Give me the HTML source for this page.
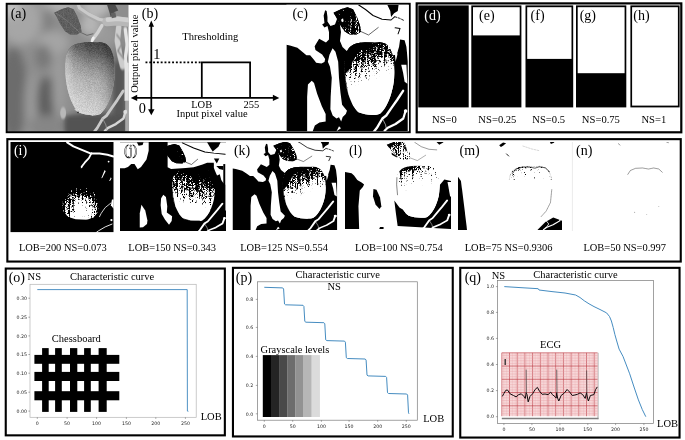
<!DOCTYPE html>
<html lang="en">
<head>
<meta charset="utf-8">
<title>Thresholding and characteristic curves</title>
<style>
html,body{margin:0;padding:0;background:#fff;}
body{width:685px;height:440px;overflow:hidden;}
svg{display:block;}
text{white-space:pre;}
</style>
</head>
<body>
<svg width="685" height="440" viewBox="0 0 685 440">
<rect x="0" y="0" width="685" height="440" fill="#fff"/>
<defs>
<filter id="dith" x="-5%" y="-5%" width="110%" height="110%" color-interpolation-filters="sRGB">
<feTurbulence type="fractalNoise" baseFrequency="1.73" numOctaves="2" seed="4" result="n"/>
<feColorMatrix in="n" type="matrix" values="1 0 0 0 0 1 0 0 0 0 1 0 0 0 0 0 0 0 0 1" result="ng"/>
<feTurbulence type="fractalNoise" baseFrequency="0.55 0.045" numOctaves="2" seed="7" result="m"/>
<feColorMatrix in="m" type="matrix" values="1 0 0 0 0 1 0 0 0 0 1 0 0 0 0 0 0 0 0 1" result="mg"/>
<feComposite in="ng" in2="mg" operator="arithmetic" k1="0" k2="0.55" k3="0.45" k4="0" result="nn"/>
<feComposite in="SourceGraphic" in2="nn" operator="arithmetic" k1="0" k2="2" k3="5.0" k4="-3.000" result="s"/>
<feComponentTransfer in="s"><feFuncR type="linear" slope="2.2" intercept="-0.6000000000000001"/><feFuncG type="linear" slope="2.2" intercept="-0.6000000000000001"/><feFuncB type="linear" slope="2.2" intercept="-0.6000000000000001"/><feFuncA type="linear" slope="0" intercept="1"/></feComponentTransfer>
<feGaussianBlur stdDeviation="0.38"/>
</filter>
<filter id="dith2" x="-5%" y="-5%" width="110%" height="110%" color-interpolation-filters="sRGB">
<feTurbulence type="fractalNoise" baseFrequency="1.61" numOctaves="2" seed="11" result="n"/>
<feColorMatrix in="n" type="matrix" values="1 0 0 0 0 1 0 0 0 0 1 0 0 0 0 0 0 0 0 1" result="ng"/>
<feTurbulence type="fractalNoise" baseFrequency="0.55 0.045" numOctaves="2" seed="14" result="m"/>
<feColorMatrix in="m" type="matrix" values="1 0 0 0 0 1 0 0 0 0 1 0 0 0 0 0 0 0 0 1" result="mg"/>
<feComposite in="ng" in2="mg" operator="arithmetic" k1="0" k2="0.55" k3="0.45" k4="0" result="nn"/>
<feComposite in="SourceGraphic" in2="nn" operator="arithmetic" k1="0" k2="2" k3="4.0" k4="-2.500" result="s"/>
<feComponentTransfer in="s"><feFuncR type="linear" slope="2.2" intercept="-0.6000000000000001"/><feFuncG type="linear" slope="2.2" intercept="-0.6000000000000001"/><feFuncB type="linear" slope="2.2" intercept="-0.6000000000000001"/><feFuncA type="linear" slope="0" intercept="1"/></feComponentTransfer>
<feGaussianBlur stdDeviation="0.38"/>
</filter>
<filter id="dithc" x="-5%" y="-5%" width="110%" height="110%" color-interpolation-filters="sRGB">
<feTurbulence type="fractalNoise" baseFrequency="1.37" numOctaves="2" seed="7" result="n"/>
<feColorMatrix in="n" type="matrix" values="1 0 0 0 0 1 0 0 0 0 1 0 0 0 0 0 0 0 0 1" result="ng"/>
<feTurbulence type="fractalNoise" baseFrequency="0.55 0.045" numOctaves="2" seed="10" result="m"/>
<feColorMatrix in="m" type="matrix" values="1 0 0 0 0 1 0 0 0 0 1 0 0 0 0 0 0 0 0 1" result="mg"/>
<feComposite in="ng" in2="mg" operator="arithmetic" k1="0" k2="0.55" k3="0.45" k4="0" result="nn"/>
<feComposite in="SourceGraphic" in2="nn" operator="arithmetic" k1="0" k2="2" k3="5.0" k4="-3.000" result="s"/>
<feComponentTransfer in="s"><feFuncR type="linear" slope="2.2" intercept="-0.6000000000000001"/><feFuncG type="linear" slope="2.2" intercept="-0.6000000000000001"/><feFuncB type="linear" slope="2.2" intercept="-0.6000000000000001"/><feFuncA type="linear" slope="0" intercept="1"/></feComponentTransfer>
<feGaussianBlur stdDeviation="0.38"/>
</filter>
<filter id="grain" x="0" y="0" width="100%" height="100%" color-interpolation-filters="sRGB">
<feTurbulence type="fractalNoise" baseFrequency="1.43" numOctaves="2" seed="9" result="n"/>
<feColorMatrix in="n" type="matrix" values="1 0 0 0 0 1 0 0 0 0 1 0 0 0 0 0 0 0 0 1" result="ng"/>
<feComposite in="SourceGraphic" in2="ng" operator="arithmetic" k1="0" k2="1" k3="0.22" k4="-0.11"/>
</filter>
<filter id="b1" x="-30%" y="-30%" width="160%" height="160%"><feGaussianBlur stdDeviation="0.8"/></filter>
<filter id="b2" x="-40%" y="-40%" width="180%" height="180%"><feGaussianBlur stdDeviation="2.2"/></filter>
<filter id="b4" x="-60%" y="-60%" width="220%" height="220%"><feGaussianBlur stdDeviation="4.5"/></filter>
<filter id="b8" x="-80%" y="-80%" width="260%" height="260%"><feGaussianBlur stdDeviation="8"/></filter>
<filter id="b05" x="-20%" y="-20%" width="140%" height="140%"><feGaussianBlur stdDeviation="0.45"/></filter>
<clipPath id="fruitclip"><path d="M58,62 C58,47 62,38.5 76,37.8 C82,37 88,38.2 93,37.3 C104,37.5 108,50 108,66 C108,85 101,103 93.5,109 C88,111.5 78,110 72,107.5 C64,101 58,82 58,62 Z"/></clipPath>
<clipPath id="imgclip"><rect x="0" y="0" width="122.0" height="126.5"/></clipPath>
<clipPath id="leafclip"><polygon points="47.0,8.0 55.0,4.2 61.0,2.4 66.5,4.5 70.5,12.5 73.5,20.7 74.5,27.0 70.0,29.8 63.0,29.6 58.0,26.5 53.0,19.0 49.5,12.0"/></clipPath>
</defs>
<svg x="7.50" y="4.80" width="121.20" height="126.60" viewBox="0 0 122.0 126.5" preserveAspectRatio="none" overflow="hidden">
<rect x="0" y="0" width="122.0" height="126.5" fill="#8e8e8e"/><g filter="url(#b4)"><ellipse cx="13.0" cy="16.0" rx="21.0" ry="24.0" fill="#a6a6a6"/><ellipse cx="3.0" cy="3.0" rx="9.0" ry="9.0" fill="#c4c4c4"/><ellipse cx="53.0" cy="1.0" rx="19.0" ry="7.0" fill="#b2b2b2"/><ellipse cx="89.0" cy="2.0" rx="15.0" ry="10.0" fill="#bababa"/><ellipse cx="41.0" cy="18.0" rx="5.0" ry="16.0" fill="#808080"/><ellipse cx="46.0" cy="38.0" rx="16.0" ry="12.0" fill="#a4a4a4"/><ellipse cx="6.0" cy="88.5" rx="14.0" ry="46.5" fill="#6c6c6c"/><ellipse cx="23.0" cy="101.5" rx="6.0" ry="33.5" fill="#9a9a9a"/><ellipse cx="40.0" cy="97.0" rx="10.0" ry="25.0" fill="#5e5e5e"/><ellipse cx="36.0" cy="52.0" rx="8.0" ry="12.0" fill="#787878"/><ellipse cx="51.5" cy="81.0" rx="6.5" ry="35.0" fill="#9c9c9c"/><ellipse cx="41.0" cy="121.0" rx="21.0" ry="11.0" fill="#868686"/><ellipse cx="113.0" cy="87.0" rx="7.0" ry="45.0" fill="#5e5e5e"/><ellipse cx="90.0" cy="120.0" rx="32.0" ry="14.0" fill="#5c5c5c"/><ellipse cx="97.0" cy="30.0" rx="13.0" ry="12.0" fill="#9a9a9a"/><ellipse cx="83.0" cy="20.5" rx="10.0" ry="10.5" fill="#b6b6b6"/></g><g filter="url(#b2)"><rect x="107" y="58" width="11" height="73" fill="#565656"/><rect x="58" y="111" width="62" height="20" fill="#525252"/></g><g filter="url(#b1)"><ellipse cx="56.0" cy="108.0" rx="3.0" ry="6.0" fill="#b8b8b8"/><polyline points="112.0,22.0 110.5,36.0 113.0,50.0 116.0,62.0" fill="none" stroke="#cdcdcd" stroke-width="5.5" stroke-linecap="round" stroke-linejoin="round" /><polyline points="118.5,24.0 120.5,40.0 118.5,54.0 120.5,66.0" fill="none" stroke="#e6e6e6" stroke-width="3.4" stroke-linecap="round" stroke-linejoin="round" /><polyline points="110.0,30.0 116.0,38.0 111.0,46.0 117.0,54.0" fill="none" stroke="#8c8c8c" stroke-width="1.6" stroke-linecap="round" stroke-linejoin="round" /></g><g filter="url(#b05)"><rect x="117.8" y="58" width="5" height="38" fill="#e4e4e4"/><rect x="118.5" y="96" width="5" height="34" fill="#a8a8a8"/><polyline points="116.5,86.0 110.5,95.2 105.1,102.9 99.7,110.7 95.8,113.7 90.4,123.0 87.3,127.0" fill="none" stroke="#c9c9c9" stroke-width="2.8" stroke-linecap="round" stroke-linejoin="round" /><polyline points="119.0,106.0 116.7,113.7 109.0,119.2 101.2,123.0 98.0,126.0" fill="none" stroke="#d6d6d6" stroke-width="2.4" stroke-linecap="round" stroke-linejoin="round" /><circle cx="118.5" cy="107" r="2" fill="#dedede"/><polyline points="95.8,113.7 99.0,120.0 100.0,125.0" fill="none" stroke="#a8a8a8" stroke-width="0.7" stroke-linecap="round" stroke-linejoin="round" /><polyline points="70.5,-1.0 72.5,4.2 81.5,10.2 92.0,15.4 102.5,17.7 111.5,17.0 123.0,18.8" fill="none" stroke="#a8a8a8" stroke-width="5.6" stroke-linecap="round" stroke-linejoin="round" /><polyline points="70.5,-2.0 72.5,3.2 81.5,9.2 92.0,14.4 102.5,16.6" fill="none" stroke="#cacaca" stroke-width="3.2" stroke-linecap="round" stroke-linejoin="round" /><polyline points="100.0,17.0 111.0,16.2 123.0,17.5" fill="none" stroke="#b8b8b8" stroke-width="9" stroke-linecap="round" stroke-linejoin="round" /><polyline points="101.0,15.0 111.0,14.0 123.0,15.5" fill="none" stroke="#d0d0d0" stroke-width="4.5" stroke-linecap="round" stroke-linejoin="round" /><polyline points="95.0,20.7 90.5,28.2 85.6,35.0" fill="none" stroke="#d2d2d2" stroke-width="3.4" stroke-linecap="round" stroke-linejoin="round" /><polyline points="86.5,33.0 85.0,36.5" fill="none" stroke="#f0f0f0" stroke-width="2.6" stroke-linecap="round" stroke-linejoin="round" /><polyline points="71.7,26.7 80.0,30.5 86.0,29.0" fill="none" stroke="#5a5a5a" stroke-width="0.8" stroke-linecap="round" stroke-linejoin="round" /><polygon points="100.2,0.0 108.5,0.0 111.5,5.7 107.7,7.2 104.0,12.4 102.5,7.2" fill="#4e4e4e" /><polygon points="104.0,8.5 108.5,7.5 109.5,12.5 105.0,13.5" fill="#626262" /><polygon points="47.0,8.0 55.0,4.2 61.0,2.4 66.5,4.5 70.5,12.5 73.5,20.7 74.5,27.0 70.0,29.8 63.0,29.6 58.0,26.5 53.0,19.0 49.5,12.0" fill="#5e5e5e" /></g><g clip-path="url(#leafclip)" opacity="0.8"><rect x="44" y="0" width="36" height="32" fill="#5e5e5e" filter="url(#grain)"/></g><polyline points="49.0,8.5 60.0,16.0 72.0,27.0" fill="none" stroke="#8a8a8a" stroke-width="0.6" stroke-linecap="round" stroke-linejoin="round" /><linearGradient id="afr" gradientUnits="userSpaceOnUse" x1="90" y1="37" x2="78" y2="110"><stop offset="0" stop-color="#404040"/><stop offset="0.14" stop-color="#585858"/><stop offset="0.3" stop-color="#868686"/><stop offset="0.5" stop-color="#ababab"/><stop offset="0.75" stop-color="#c2c2c2"/><stop offset="1" stop-color="#d6d6d6"/></linearGradient><linearGradient id="afr2" gradientUnits="userSpaceOnUse" x1="58" y1="0" x2="108" y2="0"><stop offset="0" stop-color="#fff" stop-opacity="0.4"/><stop offset="0.2" stop-color="#fff" stop-opacity="0.12"/><stop offset="0.5" stop-color="#fff" stop-opacity="0"/><stop offset="0.8" stop-color="#000" stop-opacity="0.08"/><stop offset="1" stop-color="#000" stop-opacity="0.3"/></linearGradient><g filter="url(#b05)"><path d="M58,62 C58,47 62,38.5 76,37.8 C82,37 88,38.2 93,37.3 C104,37.5 108,50 108,66 C108,85 101,103 93.5,109 C88,111.5 78,110 72,107.5 C64,101 58,82 58,62 Z" fill="url(#afr)"/></g><g clip-path="url(#fruitclip)"><rect x="50" y="30" width="66" height="88" fill="url(#afr)" filter="url(#grain)"/><rect x="50" y="30" width="66" height="88" fill="url(#afr2)"/></g><polyline points="68.0,104.5 72.0,107.5 80.0,108.0 86.0,110.5" fill="none" stroke="#d8d8d8" stroke-width="1.0" stroke-linecap="round" stroke-linejoin="round" /><circle cx="71" cy="107.5" r="0.8" fill="#222"/>
</svg>
<text x="10.7" y="17.6" font-size="14" fill="#000" text-anchor="start" font-family='"Liberation Serif", serif' >(a)</text>
<g stroke="#000" stroke-width="1.75" fill="none">
<line x1="151.3" y1="25.5" x2="151.3" y2="110.5"/>
<line x1="136" y1="97.9" x2="274" y2="97.9"/>
<polyline points="201.8,98 201.8,62.3 250.1,62.3 250.1,98"/>
<line x1="145.5" y1="62.3" x2="201.5" y2="62.3" stroke-dasharray="1.9 1.9"/>
</g>
<polygon points="151.3,20.6 148.6,26.8 154,26.8" fill="#000"/>
<polygon points="151.3,115.2 148.1,109.3 154.5,109.3" fill="#000"/>
<polygon points="130.8,97.9 137.2,94.8 137.2,101" fill="#000"/>
<polygon points="279.3,97.9 272.9,94.8 272.9,101" fill="#000"/>
<text x="141.8" y="18.3" font-size="14" fill="#000" text-anchor="start" font-family='"Liberation Serif", serif' >(b)</text>
<text x="182.3" y="39.7" font-size="10.5" fill="#000" text-anchor="start" font-family='"Liberation Serif", serif' >Thresholding</text>
<text x="153.3" y="58.8" font-size="14.3" fill="#000" text-anchor="start" font-family='"Liberation Serif", serif' >1</text>
<text x="138.7" y="113.3" font-size="14.3" fill="#000" text-anchor="start" font-family='"Liberation Serif", serif' >0</text>
<text x="191.2" y="107.5" font-size="10.5" fill="#000" text-anchor="start" font-family='"Liberation Serif", serif' >LOB</text>
<text x="243.6" y="107.8" font-size="10.5" fill="#000" text-anchor="start" font-family='"Liberation Serif", serif' >255</text>
<text x="176.5" y="117.4" font-size="10.5" fill="#000" text-anchor="start" font-family='"Liberation Serif", serif' >Input pixel value</text>
<text transform="translate(138.3,92.8) rotate(-90)" font-size="10.5" fill="#000" font-family='"Liberation Serif", serif'>Output pixel value</text>
<rect x="6.70" y="3.80" width="403.00" height="128.40" fill="none" stroke="#000" stroke-width="2.0"/>
<rect x="418.3" y="5.4" width="50.4" height="102.0" fill="#000"/>
<text x="444.5" y="122.8" font-size="10.6" fill="#000" text-anchor="middle" font-family='"Liberation Serif", serif' >NS=0</text>
<text x="424.3" y="19.6" font-size="14" fill="#fff" text-anchor="start" font-family='"Liberation Serif", serif' >(d)</text>
<rect x="471.3" y="5.4" width="50.1" height="102.0" fill="#000"/>
<rect x="473.0" y="7.2" width="46.7" height="28.2" fill="#fff"/>
<text x="497.4" y="122.8" font-size="10.6" fill="#000" text-anchor="middle" font-family='"Liberation Serif", serif' >NS=0.25</text>
<text x="479.0" y="19.6" font-size="14" fill="#000" text-anchor="start" font-family='"Liberation Serif", serif' >(e)</text>
<rect x="525.5" y="5.4" width="47.7" height="102.0" fill="#000"/>
<rect x="527.2" y="7.2" width="44.3" height="51.7" fill="#fff"/>
<text x="548.7" y="122.8" font-size="10.6" fill="#000" text-anchor="middle" font-family='"Liberation Serif", serif' >NS=0.5</text>
<text x="530.6" y="19.6" font-size="14" fill="#000" text-anchor="start" font-family='"Liberation Serif", serif' >(f)</text>
<rect x="576.0" y="5.4" width="50.3" height="102.0" fill="#000"/>
<rect x="577.7" y="7.2" width="46.9" height="66.0" fill="#fff"/>
<text x="600.9" y="122.8" font-size="10.6" fill="#000" text-anchor="middle" font-family='"Liberation Serif", serif' >NS=0.75</text>
<text x="579.7" y="19.6" font-size="14" fill="#000" text-anchor="start" font-family='"Liberation Serif", serif' >(g)</text>
<rect x="630.4" y="5.4" width="49.2" height="102.0" fill="#000"/>
<rect x="632.1" y="7.2" width="45.8" height="98.4" fill="#fff"/>
<text x="653.8" y="122.8" font-size="10.6" fill="#000" text-anchor="middle" font-family='"Liberation Serif", serif' >NS=1</text>
<text x="633.3" y="19.6" font-size="14" fill="#000" text-anchor="start" font-family='"Liberation Serif", serif' >(h)</text>
<rect x="416.70" y="3.40" width="264.60" height="128.90" fill="none" stroke="#000" stroke-width="2.2"/>
<defs><clipPath id="mclip"><rect x="50" y="30" width="70" height="26"/></clipPath></defs>
<svg x="286.40" y="4.80" width="122.20" height="126.50" viewBox="0 0 122.0 126.5" preserveAspectRatio="none" overflow="hidden">
<rect x="-6" y="-6" width="134.0" height="138.5" fill="#fff"/><polygon points="0.0,40.0 3.5,40.7 11.0,43.0 15.5,46.7 20.0,50.4 23.7,50.4 27.5,55.0 29.7,58.0 35.0,58.7 38.0,57.2 38.7,54.2 35.7,49.7 29.0,45.2 28.2,41.4 32.7,34.0 39.5,37.7 42.5,34.7 42.5,27.2 41.0,21.2 38.0,22.7 35.7,19.7 38.0,18.2 37.2,10.7 38.7,5.4 40.2,6.2 41.0,12.2 41.0,16.7 44.0,21.2 48.5,19.7 50.7,13.7 53.0,16.7 54.5,27.2 53.5,36.2 56.0,42.2 60.0,46.0 70.0,52.0 83.0,56.0 100.0,52.0 109.0,50.0 111.0,47.0 112.5,42.0 113.5,34.7 118.0,35.5 119.8,42.0 121.3,57.0 121.3,127.0 0.0,127.0" fill="#000" /><polygon points="25.3,75.9 27.6,78.2 30.7,89.0 35.4,101.4 39.2,109.1 39.2,116.8 33.0,117.6 28.4,120.7 26.1,127.0 20.7,127.0 20.7,92.1 21.5,79.7" fill="#fff" /><polygon points="46.1,43.5 49.0,47.0 51.7,57.0 52.5,73.0 54.0,88.0 55.6,100.0 60.5,106.0 59.3,109.1 56.2,112.2 54.7,116.8 52.5,112.5 50.0,113.7 46.2,110.7 43.9,104.5 44.2,92.0 45.3,73.0 43.5,62.0 41.4,57.0 43.0,50.0" fill="#fff" /><polygon points="50.0,126.5 54.5,123.5 52.5,121.5" fill="#fff" /><polygon points="114.6,60.0 119.8,60.0 120.8,79.0 118.0,77.0 116.5,68.0" fill="#fff" /><polygon points="108.6,38.0 110.5,38.0 110.8,50.0 109.0,57.0 108.4,50.0" fill="#fff" /><polyline points="116.5,86.0 110.5,95.2 105.1,102.9 99.7,110.7 95.8,113.7 90.4,123.0 87.3,127.0" fill="none" stroke="#fff" stroke-width="2.3" stroke-linecap="round" stroke-linejoin="round" /><polyline points="119.0,106.0 116.7,113.7 109.0,119.2 101.2,123.0 98.0,126.0" fill="none" stroke="#fff" stroke-width="2.2" stroke-linecap="round" stroke-linejoin="round" /><polyline points="95.8,113.7 99.0,120.0 100.0,125.0" fill="none" stroke="#fff" stroke-width="0.6" stroke-linecap="round" stroke-linejoin="round" /><circle cx="119" cy="106.3" r="1.8" fill="#fff"/><rect x="121.2" y="0" width="2" height="126.5" fill="#fff"/><linearGradient id="cfg" gradientUnits="userSpaceOnUse" x1="76" y1="34" x2="91" y2="74"><stop offset="0" stop-color="rgb(0,0,0)"/><stop offset="0.1" stop-color="rgb(0,0,0)"/><stop offset="0.56" stop-color="rgb(128,128,128)"/><stop offset="1.0" stop-color="rgb(255,255,255)"/></linearGradient><linearGradient id="cfgw" gradientUnits="userSpaceOnUse" x1="76" y1="34" x2="91" y2="74"><stop offset="0.84" stop-color="#fff" stop-opacity="0"/><stop offset="1.0" stop-color="#fff" stop-opacity="1"/></linearGradient><linearGradient id="cfgb" gradientUnits="userSpaceOnUse" x1="76" y1="34" x2="91" y2="74"><stop offset="0.1" stop-color="#000" stop-opacity="1"/><stop offset="0.24" stop-color="#000" stop-opacity="0"/></linearGradient><g clip-path="url(#fruitclip)"><g filter="url(#dith)"><rect x="50" y="30" width="66" height="88" fill="url(#cfg)"/></g><rect x="50" y="30" width="66" height="88" fill="url(#cfgw)"/><rect x="50" y="30" width="66" height="88" fill="url(#cfgb)"/></g><g clip-path="url(#fruitclip)"><polygon points="56.0,36.0 75.0,36.0 70.5,47.0 66.5,56.0 63.5,64.0 60.0,68.0 56.0,69.0" fill="#000" filter="url(#b05)"/></g><polyline points="58.3,50.0 58.0,62.0 59.0,76.0 61.5,90.0 66.0,101.0 70.5,107.0" fill="none" stroke="#000" stroke-width="0.6" stroke-linecap="round" stroke-linejoin="round" /><polygon points="47.0,8.0 55.0,4.2 61.0,2.4 66.5,4.5 70.5,12.5 73.5,20.7 74.5,27.0 70.0,29.8 63.0,29.6 58.0,26.5 53.0,19.0 49.5,12.0" fill="#000" /><linearGradient id="clg" gradientUnits="userSpaceOnUse" x1="58" y1="8" x2="74" y2="26"><stop offset="0" stop-color="rgb(20,20,20)"/><stop offset="1" stop-color="rgb(107,107,107)"/></linearGradient><g clip-path="url(#leafclip)"><g filter="url(#dith2)"><rect x="48" y="0" width="32" height="32" fill="url(#clg)"/></g></g><polygon points="54.5,15.0 56.5,13.5 57.2,16.5 55.5,17.5" fill="#fff" /><polyline points="72.2,0.2 79.0,4.7 86.5,10.7 95.5,14.4 104.5,15.2 108.0,12.0" fill="none" stroke="#000" stroke-width="1.0" stroke-linecap="round" stroke-linejoin="round" /><polyline points="73.7,26.4 82.0,30.2 91.7,22.7" fill="none" stroke="#000" stroke-width="0.6" stroke-linecap="round" stroke-linejoin="round" /><polygon points="100.7,0.0 112.0,0.0 111.2,6.2 107.5,8.4 104.5,12.2 103.7,6.2" fill="#000" /><polyline points="108.5,12.0 113.0,13.5 118.0,16.0" fill="none" stroke="#000" stroke-width="0.9" stroke-linecap="round" stroke-linejoin="round" stroke-dasharray="2 1.5"/><polyline points="108.5,23.0 113.5,23.6 111.5,29.0" fill="none" stroke="#000" stroke-width="1.0" stroke-linecap="round" stroke-linejoin="round" />
</svg>
<text x="292.4" y="18.0" font-size="14" fill="#000" text-anchor="start" font-family='"Liberation Serif", serif' >(c)</text>
<rect x="10.5" y="142" width="103" height="90.1" fill="#000"/><polyline points="67.1,142.3 73.4,146.3 82.5,150.2 90.4,153.4 99.5,153.6 107.5,154.8 113.4,156.5" fill="none" stroke="#fff" stroke-width="2.0" stroke-linecap="round" stroke-linejoin="round" /><polyline points="91.5,153.2 88.9,158.2 84.7,162.7 81.6,166.8" fill="none" stroke="#fff" stroke-width="1.8" stroke-linecap="round" stroke-linejoin="round" /><polygon points="82.6,164.5 80.6,168.2 82.2,168.0" fill="#fff" /><polygon points="101.2,178.6 104.6,170.1 105.7,171.2 102.6,177.2" fill="#fff" /><polygon points="109.2,180.9 110.9,177.3 111.5,178.5 110.0,181.0" fill="#fff" /><circle cx="108.6" cy="161.6" r="0.9" fill="#fff"/><polyline points="110.9,203.0 105.2,207.6 101.2,213.3 99.5,216.7" fill="none" stroke="#fff" stroke-width="0.8" stroke-linecap="round" stroke-linejoin="round" /><circle cx="111.4" cy="220.1" r="1.1" fill="#fff"/><polyline points="112.0,224.1 105.2,226.9 98.4,230.9 96.1,232.6" fill="none" stroke="#fff" stroke-width="0.9" stroke-linecap="round" stroke-linejoin="round" /><polygon points="112.0,199.6 113.6,199.6 113.6,208.7 110.9,205.3" fill="#fff" /><clipPath id="iblob"><polygon points="62.2,206.3 62.8,198.8 66.8,192.4 75.6,188.6 82.5,187.8 90.4,189.0 97.6,195.6 99.0,206.5 97.6,212.6 93.6,217.6 87.0,219.8 75.6,219.3 68.2,217.0 63.8,212.0"/></clipPath><radialGradient id="irg" gradientUnits="userSpaceOnUse" cx="80.8" cy="212.5" r="21.5" gradientTransform="translate(80.8 212.5) scale(1 1.08) translate(-80.8 -212.5)"><stop offset="0" stop-color="#eee"/><stop offset="0.4" stop-color="#d4d4d4"/><stop offset="0.7" stop-color="#808080"/><stop offset="1" stop-color="#1a1a1a"/></radialGradient><g clip-path="url(#iblob)"><g filter="url(#dith)"><rect x="58" y="184" width="46" height="40" fill="url(#irg)"/></g></g>
<svg x="120.00" y="142.00" width="106.00" height="89.00" viewBox="-2.20 -0.28 122.97 124.48" preserveAspectRatio="none" overflow="hidden">
<rect x="-6" y="-6" width="134.0" height="138.5" fill="#000"/><g transform="matrix(1.0221 0 0 0.995 -3.07 -0.07)"><polygon points="0.0,0.0 33.4,0.0 33.4,12.2 30.9,24.5 24.7,35.1 21.0,38.2 17.3,30.6 13.6,30.6 9.9,35.1 6.1,36.7 0.0,36.7" fill="#fff" /><polygon points="20.0,0.0 27.5,0.0 26.5,4.0 22.0,5.0" fill="#000" /><polygon points="25.2,88.0 29.5,96.0 32.0,110.0 31.5,115.0 27.0,119.5 23.3,120.0 23.3,100.0" fill="#fff" /><polygon points="50.0,74.0 53.0,77.0 54.5,90.0 54.0,99.0 60.0,104.0 59.5,111.0 56.5,116.0 52.0,109.0 48.2,101.0 47.0,88.8 47.5,79.0" fill="#fff" /><polygon points="54.9,0.0 123.0,0.0 123.0,30.0 107.4,30.0 107.4,29.0 99.7,29.0 94.6,31.4 88.2,33.8 84.4,35.4 75.4,36.2 58.8,37.8 54.9,35.4" fill="#fff" /><polygon points="107.4,17.0 123.0,17.0 123.0,96.0 120.3,96.0 120.3,60.0 118.1,57.5 115.8,53.3 114.1,45.0 111.0,47.0 108.5,40.0 107.4,36.0" fill="#fff" /><polygon points="107.4,23.1 113.6,23.1 110.7,30.1" fill="#000" /><polygon points="110.2,33.6 118.1,33.6 118.1,39.2 113.6,37.8" fill="#000" /><rect x="118.1" y="30.8" width="2.2" height="66" fill="#000"/></g><polyline points="116.5,86.0 110.5,95.2 105.1,102.9 99.7,110.7 95.8,113.7 90.4,123.0 87.3,127.0" fill="none" stroke="#fff" stroke-width="2.3" stroke-linecap="round" stroke-linejoin="round" /><polyline points="119.0,106.0 116.7,113.7 109.0,119.2 101.2,123.0 98.0,126.0" fill="none" stroke="#fff" stroke-width="2.2" stroke-linecap="round" stroke-linejoin="round" /><polyline points="95.8,113.7 99.0,120.0 100.0,125.0" fill="none" stroke="#fff" stroke-width="0.6" stroke-linecap="round" stroke-linejoin="round" /><circle cx="119" cy="106.3" r="1.6" fill="#fff"/><linearGradient id="jfg" gradientUnits="userSpaceOnUse" x1="96" y1="34" x2="78" y2="88"><stop offset="0" stop-color="rgb(0,0,0)"/><stop offset="0.18" stop-color="rgb(0,0,0)"/><stop offset="0.62" stop-color="rgb(128,128,128)"/><stop offset="1" stop-color="rgb(242,242,242)"/></linearGradient><linearGradient id="jfgw" gradientUnits="userSpaceOnUse" x1="96" y1="34" x2="78" y2="88"><stop offset="0.9" stop-color="#fff" stop-opacity="0"/><stop offset="1.04" stop-color="#fff" stop-opacity="1"/></linearGradient><linearGradient id="jfgb" gradientUnits="userSpaceOnUse" x1="96" y1="34" x2="78" y2="88"><stop offset="0.16" stop-color="#000" stop-opacity="1"/><stop offset="0.3" stop-color="#000" stop-opacity="0"/></linearGradient><g clip-path="url(#fruitclip)"><g filter="url(#dith)"><rect x="50" y="30" width="66" height="88" fill="url(#jfg)"/></g><rect x="50" y="30" width="66" height="88" fill="url(#jfgw)"/><rect x="50" y="30" width="66" height="88" fill="url(#jfgb)"/></g><polyline points="58.3,50.0 58.0,62.0 59.0,76.0 61.5,90.0 66.0,101.0 70.5,107.0 80.0,110.3 90.0,110.3" fill="none" stroke="#000" stroke-width="1.0" stroke-linecap="round" stroke-linejoin="round" /><polygon points="47.0,8.0 55.0,4.2 61.0,2.4 66.5,4.5 70.5,12.5 73.5,20.7 74.5,27.0 70.0,29.8 63.0,29.6 58.0,26.5 53.0,19.0 49.5,12.0" fill="#000" /><linearGradient id="jlg" gradientUnits="userSpaceOnUse" x1="58" y1="8" x2="74" y2="26"><stop offset="0" stop-color="rgb(0,0,0)"/><stop offset="1" stop-color="rgb(51,51,51)"/></linearGradient><g clip-path="url(#leafclip)"><g filter="url(#dith2)"><rect x="48" y="0" width="32" height="32" fill="url(#jlg)"/></g></g><g transform="matrix(1.0221 0 0 0.995 -3.07 -0.07)"><polyline points="71.6,1.0 84.4,8.2 97.2,13.8 107.4,15.4 120.2,17.0" fill="none" stroke="#000" stroke-width="1.3" stroke-linecap="round" stroke-linejoin="round" /><polygon points="99.7,0.0 115.1,0.0 112.5,6.6 106.1,13.0 103.5,8.2" fill="#000" /><polyline points="75.4,28.2 82.0,31.4 89.0,24.0" fill="none" stroke="#000" stroke-width="0.7" stroke-linecap="round" stroke-linejoin="round" /></g>
</svg>
<svg x="232.00" y="142.00" width="106.00" height="88.00" viewBox="-0.87 2.88 122.97 123.08" preserveAspectRatio="none" overflow="hidden">
<rect x="-6" y="-6" width="134.0" height="138.5" fill="#fff"/><polygon points="0.0,40.0 3.5,40.7 11.0,43.0 15.5,46.7 20.0,50.4 23.7,50.4 27.5,55.0 29.7,58.0 35.0,58.7 38.0,57.2 38.7,54.2 35.7,49.7 29.0,45.2 28.2,41.4 32.7,34.0 39.5,37.7 42.5,34.7 42.5,27.2 41.0,21.2 38.0,22.7 35.7,19.7 38.0,18.2 37.2,10.7 38.7,5.4 40.2,6.2 41.0,12.2 41.0,16.7 44.0,21.2 48.5,19.7 50.7,13.7 53.0,16.7 54.5,27.2 53.5,36.2 56.0,42.2 60.0,46.0 70.0,52.0 83.0,56.0 100.0,52.0 109.0,50.0 111.0,47.0 112.5,42.0 113.5,34.7 118.0,35.5 119.8,42.0 121.3,57.0 121.3,127.0 0.0,127.0" fill="#000" /><polygon points="25.3,75.9 27.6,78.2 30.7,89.0 35.4,101.4 39.2,109.1 39.2,116.8 33.0,117.6 28.4,120.7 26.1,127.0 20.7,127.0 20.7,92.1 21.5,79.7" fill="#fff" /><polygon points="46.1,43.5 49.0,47.0 51.7,57.0 52.5,73.0 54.0,88.0 55.6,100.0 60.5,106.0 59.3,109.1 56.2,112.2 54.7,116.8 52.5,112.5 50.0,113.7 46.2,110.7 43.9,104.5 44.2,92.0 45.3,73.0 43.5,62.0 41.4,57.0 43.0,50.0" fill="#fff" /><polygon points="50.0,126.5 54.5,123.5 52.5,121.5" fill="#fff" /><polygon points="114.6,60.0 119.8,60.0 120.8,79.0 118.0,77.0 116.5,68.0" fill="#fff" /><polygon points="108.6,38.0 110.5,38.0 110.8,50.0 109.0,57.0 108.4,50.0" fill="#fff" /><polyline points="116.5,86.0 110.5,95.2 105.1,102.9 99.7,110.7 95.8,113.7 90.4,123.0 87.3,127.0" fill="none" stroke="#fff" stroke-width="2.3" stroke-linecap="round" stroke-linejoin="round" /><polyline points="119.0,106.0 116.7,113.7 109.0,119.2 101.2,123.0 98.0,126.0" fill="none" stroke="#fff" stroke-width="2.2" stroke-linecap="round" stroke-linejoin="round" /><polyline points="95.8,113.7 99.0,120.0 100.0,125.0" fill="none" stroke="#fff" stroke-width="0.6" stroke-linecap="round" stroke-linejoin="round" /><circle cx="119" cy="106.3" r="1.8" fill="#fff"/><rect x="121.2" y="0" width="2" height="126.5" fill="#fff"/><linearGradient id="kfg" gradientUnits="userSpaceOnUse" x1="76" y1="34" x2="91" y2="74"><stop offset="0" stop-color="rgb(0,0,0)"/><stop offset="0.1" stop-color="rgb(0,0,0)"/><stop offset="0.56" stop-color="rgb(128,128,128)"/><stop offset="1.0" stop-color="rgb(255,255,255)"/></linearGradient><linearGradient id="kfgw" gradientUnits="userSpaceOnUse" x1="76" y1="34" x2="91" y2="74"><stop offset="0.84" stop-color="#fff" stop-opacity="0"/><stop offset="1.0" stop-color="#fff" stop-opacity="1"/></linearGradient><linearGradient id="kfgb" gradientUnits="userSpaceOnUse" x1="76" y1="34" x2="91" y2="74"><stop offset="0.1" stop-color="#000" stop-opacity="1"/><stop offset="0.24" stop-color="#000" stop-opacity="0"/></linearGradient><g clip-path="url(#fruitclip)"><g filter="url(#dith)"><rect x="50" y="30" width="66" height="88" fill="url(#kfg)"/></g><rect x="50" y="30" width="66" height="88" fill="url(#kfgw)"/><rect x="50" y="30" width="66" height="88" fill="url(#kfgb)"/></g><g clip-path="url(#fruitclip)"><polygon points="56.0,36.0 75.0,36.0 70.5,47.0 66.5,56.0 63.5,64.0 60.0,68.0 56.0,69.0" fill="#000" filter="url(#b05)"/></g><polyline points="58.3,50.0 58.0,62.0 59.0,76.0 61.5,90.0 66.0,101.0 70.5,107.0" fill="none" stroke="#000" stroke-width="0.6" stroke-linecap="round" stroke-linejoin="round" /><polygon points="47.0,8.0 55.0,4.2 61.0,2.4 66.5,4.5 70.5,12.5 73.5,20.7 74.5,27.0 70.0,29.8 63.0,29.6 58.0,26.5 53.0,19.0 49.5,12.0" fill="#000" /><linearGradient id="klg" gradientUnits="userSpaceOnUse" x1="58" y1="8" x2="74" y2="26"><stop offset="0" stop-color="rgb(20,20,20)"/><stop offset="1" stop-color="rgb(107,107,107)"/></linearGradient><g clip-path="url(#leafclip)"><g filter="url(#dith2)"><rect x="48" y="0" width="32" height="32" fill="url(#klg)"/></g></g><polygon points="54.5,15.0 56.5,13.5 57.2,16.5 55.5,17.5" fill="#fff" /><polyline points="72.2,0.2 79.0,4.7 86.5,10.7 95.5,14.4 104.5,15.2 108.0,12.0" fill="none" stroke="#000" stroke-width="1.0" stroke-linecap="round" stroke-linejoin="round" /><polyline points="73.7,26.4 82.0,30.2 91.7,22.7" fill="none" stroke="#000" stroke-width="0.6" stroke-linecap="round" stroke-linejoin="round" /><polygon points="100.7,0.0 112.0,0.0 111.2,6.2 107.5,8.4 104.5,12.2 103.7,6.2" fill="#000" /><polyline points="108.5,12.0 113.0,13.5 118.0,16.0" fill="none" stroke="#000" stroke-width="0.9" stroke-linecap="round" stroke-linejoin="round" stroke-dasharray="2 1.5"/><polyline points="108.5,23.0 113.5,23.6 111.5,29.0" fill="none" stroke="#000" stroke-width="1.0" stroke-linecap="round" stroke-linejoin="round" />
</svg>
<svg x="345.00" y="142.00" width="106.00" height="87.00" viewBox="-1.91 4.20 122.97 121.68" preserveAspectRatio="none" overflow="hidden">
<rect x="-6" y="-6" width="134.0" height="138.5" fill="#fff"/><g transform="matrix(1.0221 0 0 0.995 -2.15 4.34)"><polygon points="0.0,42.1 7.7,43.7 10.5,47.0 14.2,53.3 19.5,57.0 21.9,59.7 20.5,63.0 17.0,68.0 15.5,90.0 16.3,122.5 0.0,122.5" fill="#000" /><polygon points="32.5,66.0 36.0,67.0 40.0,78.0 41.5,90.0 39.5,94.0 35.0,88.0 32.0,76.0" fill="#000" /><polygon points="40.0,119.5 44.0,119.5 44.0,122.5 39.0,122.5" fill="#000" /><polygon points="56.2,82.0 62.0,92.0 70.0,98.0 90.0,100.0 102.0,92.0 106.0,76.0 108.0,60.0 113.0,52.5 125.0,56.0 125.0,122.5 60.0,118.0 58.0,100.0" fill="#000" /></g><polyline points="116.5,86.0 110.5,95.2 105.1,102.9 99.7,110.7 95.8,113.7 90.4,123.0 87.3,127.0" fill="none" stroke="#fff" stroke-width="2.3" stroke-linecap="round" stroke-linejoin="round" /><polyline points="119.0,106.0 116.7,113.7 109.0,119.2 101.2,123.0 98.0,126.0" fill="none" stroke="#fff" stroke-width="2.2" stroke-linecap="round" stroke-linejoin="round" /><polyline points="95.8,113.7 99.0,120.0 100.0,125.0" fill="none" stroke="#fff" stroke-width="0.6" stroke-linecap="round" stroke-linejoin="round" /><circle cx="119" cy="106.3" r="1.6" fill="#fff"/><polygon points="117.0,60.0 123.0,60.0 123.0,82.0 120.0,80.0 118.5,70.0" fill="#fff" /><linearGradient id="lfg" gradientUnits="userSpaceOnUse" x1="74" y1="34" x2="86" y2="70"><stop offset="0" stop-color="rgb(0,0,0)"/><stop offset="0.1" stop-color="rgb(51,51,51)"/><stop offset="0.3" stop-color="rgb(143,143,143)"/><stop offset="0.6" stop-color="rgb(214,214,214)"/><stop offset="1" stop-color="rgb(255,255,255)"/></linearGradient><linearGradient id="lfgw" gradientUnits="userSpaceOnUse" x1="74" y1="34" x2="86" y2="70"><stop offset="0.6" stop-color="#fff" stop-opacity="0"/><stop offset="0.95" stop-color="#fff" stop-opacity="1"/></linearGradient><g clip-path="url(#fruitclip)"><g filter="url(#dith)"><rect x="50" y="30" width="66" height="88" fill="url(#lfg)"/></g><rect x="50" y="30" width="66" height="88" fill="url(#lfgw)"/></g><polyline points="58.3,54.0 58.0,64.0 59.0,78.0" fill="none" stroke="#000" stroke-width="0.6" stroke-linecap="round" stroke-linejoin="round" /><linearGradient id="llg" gradientUnits="userSpaceOnUse" x1="58" y1="8" x2="74" y2="26"><stop offset="0" stop-color="rgb(114,114,114)"/><stop offset="1" stop-color="rgb(204,204,204)"/></linearGradient><g clip-path="url(#leafclip)"><g filter="url(#dith2)"><rect x="48" y="0" width="32" height="32" fill="url(#llg)"/></g></g><polyline points="79.0,4.7 86.5,10.7 95.5,14.4 104.5,15.2" fill="none" stroke="#000" stroke-width="0.5" stroke-linecap="round" stroke-linejoin="round" /><polyline points="73.7,26.4 82.0,30.2 91.7,22.7" fill="none" stroke="#000" stroke-width="0.4" stroke-linecap="round" stroke-linejoin="round" /><polygon points="102.5,0.0 113.5,0.0 112.0,5.0 107.5,8.0 104.5,4.5" fill="#000" /><polygon points="46.5,8.0 55.0,4.0 57.5,6.5 53.0,9.5 51.0,13.0 49.0,12.0" fill="#000" /><polygon points="66.0,9.0 69.0,12.0 70.5,18.0 68.0,15.0" fill="#000" /><polygon points="52.0,19.0 56.0,22.0 60.0,25.5 56.5,25.0 52.5,22.0" fill="#000" />
</svg>
<svg x="458.00" y="142.00" width="104.00" height="89.00" viewBox="-1.28 3.36 120.65 124.48" preserveAspectRatio="none" overflow="hidden">
<rect x="-6" y="-6" width="134.0" height="138.5" fill="#fff"/><g transform="matrix(1.0221 0 0 0.995 -2.67 3.5)"><polygon points="1.3,48.5 4.7,54.8 7.7,83.6 11.6,123.5 1.3,123.5" fill="#000" /><polygon points="91.5,123.5 100.5,112.4 109.5,106.0 119.9,110.8 121.0,123.5" fill="#000" /></g><polyline points="119.0,106.0 116.7,113.7 109.0,119.2 101.2,123.0 98.0,126.0" fill="none" stroke="#fff" stroke-width="1.6" stroke-linecap="round" stroke-linejoin="round" /><polyline points="100.0,112.0 104.0,118.0 101.0,123.0" fill="none" stroke="#fff" stroke-width="1.0" stroke-linecap="round" stroke-linejoin="round" /><g clip-path="url(#mclip)"><linearGradient id="mfg" gradientUnits="userSpaceOnUse" x1="72" y1="35" x2="84" y2="58"><stop offset="0" stop-color="rgb(143,143,143)"/><stop offset="0.3" stop-color="rgb(194,194,194)"/><stop offset="0.7" stop-color="rgb(242,242,242)"/><stop offset="1" stop-color="rgb(255,255,255)"/></linearGradient><g clip-path="url(#fruitclip)"><g filter="url(#dith)"><rect x="50" y="30" width="66" height="88" fill="url(#mfg)"/></g></g></g><path d="M58,62 C58,47 62,38.5 76,37.8 C82,37 88,38.2 93,37.3 C104,37.5 108,50 108,66 C108,85 101,103 93.5,109 C88,111.5 78,110 72,107.5 C64,101 58,82 58,62 Z" fill="none" stroke="#000" stroke-width="0.7" stroke-dasharray="0.8 1.1" opacity="0.6" clip-path="url(#mclip)"/><polyline points="62.0,47.0 66.0,41.0 74.0,38.5 82.0,38.5 88.0,40.0 93.0,38.0 100.0,39.5 105.0,45.0" fill="none" stroke="#000" stroke-width="0.8" stroke-linecap="round" stroke-linejoin="round" stroke-dasharray="1.5 0.7"/><polyline points="107.5,70.0 106.0,88.0 101.0,100.0 95.0,108.0" fill="none" stroke="#000" stroke-width="0.5" stroke-linecap="round" stroke-linejoin="round" stroke-dasharray="1 1.2"/><polygon points="46.5,8.0 51.0,4.0 54.5,5.0 51.0,8.5 48.5,10.5" fill="#000" /><polyline points="55.0,20.0 57.5,23.0" fill="none" stroke="#000" stroke-width="1.1" stroke-linecap="round" stroke-linejoin="round" /><polygon points="104.0,0.0 112.0,0.0 110.0,4.5 106.5,6.0" fill="#000" /><polyline points="74.0,9.0 84.0,13.0 93.0,15.5" fill="none" stroke="#000" stroke-width="0.4" stroke-linecap="round" stroke-linejoin="round" opacity="0.5" stroke-dasharray="2 1.5"/>
</svg>
<svg x="572.00" y="142.00" width="107.00" height="89.00" viewBox="-1.74 1.68 124.13 124.48" preserveAspectRatio="none" overflow="hidden">
<rect x="-6" y="-6" width="134.0" height="138.5" fill="#fff"/><polyline points="63.0,47.0 66.0,41.5 72.0,38.5 80.0,38.0 87.0,39.5 93.0,38.0 99.0,39.5 103.0,44.0" fill="none" stroke="#000" stroke-width="0.7" stroke-linecap="round" stroke-linejoin="round" stroke-dasharray="1.6 0.9" opacity="0.7"/><polyline points="107.0,1.0 110.0,2.5" fill="none" stroke="#000" stroke-width="1.0" stroke-linecap="round" stroke-linejoin="round" opacity="0.6"/><polyline points="52.0,4.0 54.0,6.0" fill="none" stroke="#000" stroke-width="0.8" stroke-linecap="round" stroke-linejoin="round" opacity="0.6"/><circle cx="71" cy="100" r="0.6" fill="#000" opacity="0.6"/><circle cx="99" cy="92" r="0.5" fill="#000" opacity="0.6"/><circle cx="85" cy="103" r="0.5" fill="#000" opacity="0.5"/>
</svg>
<line x1="572.4" y1="142" x2="572.4" y2="231" stroke="#dcdcdc" stroke-width="0.6"/>
<text x="13.9" y="155.0" font-size="14" fill="#fff" text-anchor="start" font-family='"Liberation Serif", serif' >(i)</text>
<text x="124.0" y="154.8" font-size="14" fill="#fff" text-anchor="start" font-family='"Liberation Serif", serif' stroke="#000" stroke-width="0.45">(j)</text>
<text x="233.9" y="155.0" font-size="14" fill="#000" text-anchor="start" font-family='"Liberation Serif", serif' >(k)</text>
<text x="348.9" y="155.0" font-size="14" fill="#000" text-anchor="start" font-family='"Liberation Serif", serif' >(l)</text>
<text x="459.5" y="155.0" font-size="14" fill="#000" text-anchor="start" font-family='"Liberation Serif", serif' >(m)</text>
<text x="576.1" y="155.0" font-size="14" fill="#000" text-anchor="start" font-family='"Liberation Serif", serif' >(n)</text>
<text x="62.8" y="250.8" font-size="10.45" fill="#000" text-anchor="middle" font-family='"Liberation Serif", serif' >LOB=200 NS=0.073</text>
<text x="172.2" y="250.8" font-size="10.45" fill="#000" text-anchor="middle" font-family='"Liberation Serif", serif' >LOB=150 NS=0.343</text>
<text x="284.0" y="250.8" font-size="10.45" fill="#000" text-anchor="middle" font-family='"Liberation Serif", serif' >LOB=125 NS=0.554</text>
<text x="398.9" y="250.8" font-size="10.45" fill="#000" text-anchor="middle" font-family='"Liberation Serif", serif' >LOB=100 NS=0.754</text>
<text x="508.6" y="250.8" font-size="10.45" fill="#000" text-anchor="middle" font-family='"Liberation Serif", serif' >LOB=75 NS=0.9306</text>
<text x="624.7" y="250.8" font-size="10.45" fill="#000" text-anchor="middle" font-family='"Liberation Serif", serif' >LOB=50 NS=0.997</text>
<rect x="7.35" y="139.15" width="673.40" height="122.40" fill="none" stroke="#000" stroke-width="2.1"/>
<rect x="30.0" y="284.3" width="166.2" height="133.0" fill="#fff" stroke="#b4b4b4" stroke-width="0.7"/>
<line x1="37.3" y1="417.3" x2="37.3" y2="418.9" stroke="#555" stroke-width="0.5"/>
<text x="37.3" y="425.0" font-size="4.7" fill="#262626" text-anchor="middle" font-family='"DejaVu Sans", "Liberation Sans", sans-serif' >0</text>
<line x1="67.1" y1="417.3" x2="67.1" y2="418.9" stroke="#555" stroke-width="0.5"/>
<text x="67.1" y="425.0" font-size="4.7" fill="#262626" text-anchor="middle" font-family='"DejaVu Sans", "Liberation Sans", sans-serif' >50</text>
<line x1="96.6" y1="417.3" x2="96.6" y2="418.9" stroke="#555" stroke-width="0.5"/>
<text x="96.6" y="425.0" font-size="4.7" fill="#262626" text-anchor="middle" font-family='"DejaVu Sans", "Liberation Sans", sans-serif' >100</text>
<line x1="126.4" y1="417.3" x2="126.4" y2="418.9" stroke="#555" stroke-width="0.5"/>
<text x="126.4" y="425.0" font-size="4.7" fill="#262626" text-anchor="middle" font-family='"DejaVu Sans", "Liberation Sans", sans-serif' >150</text>
<line x1="155.8" y1="417.3" x2="155.8" y2="418.9" stroke="#555" stroke-width="0.5"/>
<text x="155.8" y="425.0" font-size="4.7" fill="#262626" text-anchor="middle" font-family='"DejaVu Sans", "Liberation Sans", sans-serif' >200</text>
<line x1="185.4" y1="417.3" x2="185.4" y2="418.9" stroke="#555" stroke-width="0.5"/>
<text x="185.4" y="425.0" font-size="4.7" fill="#262626" text-anchor="middle" font-family='"DejaVu Sans", "Liberation Sans", sans-serif' >250</text>
<line x1="28.4" y1="411.1" x2="30.0" y2="411.1" stroke="#555" stroke-width="0.5"/>
<text x="26.9" y="412.8" font-size="4.7" fill="#262626" text-anchor="end" font-family='"DejaVu Sans", "Liberation Sans", sans-serif' >0.00</text>
<line x1="28.4" y1="392.2" x2="30.0" y2="392.2" stroke="#555" stroke-width="0.5"/>
<text x="26.9" y="393.9" font-size="4.7" fill="#262626" text-anchor="end" font-family='"DejaVu Sans", "Liberation Sans", sans-serif' >0.05</text>
<line x1="28.4" y1="373.2" x2="30.0" y2="373.2" stroke="#555" stroke-width="0.5"/>
<text x="26.9" y="374.9" font-size="4.7" fill="#262626" text-anchor="end" font-family='"DejaVu Sans", "Liberation Sans", sans-serif' >0.10</text>
<line x1="28.4" y1="354.5" x2="30.0" y2="354.5" stroke="#555" stroke-width="0.5"/>
<text x="26.9" y="356.2" font-size="4.7" fill="#262626" text-anchor="end" font-family='"DejaVu Sans", "Liberation Sans", sans-serif' >0.15</text>
<line x1="28.4" y1="335.9" x2="30.0" y2="335.9" stroke="#555" stroke-width="0.5"/>
<text x="26.9" y="337.6" font-size="4.7" fill="#262626" text-anchor="end" font-family='"DejaVu Sans", "Liberation Sans", sans-serif' >0.20</text>
<line x1="28.4" y1="317.2" x2="30.0" y2="317.2" stroke="#555" stroke-width="0.5"/>
<text x="26.9" y="318.9" font-size="4.7" fill="#262626" text-anchor="end" font-family='"DejaVu Sans", "Liberation Sans", sans-serif' >0.25</text>
<line x1="28.4" y1="298.2" x2="30.0" y2="298.2" stroke="#555" stroke-width="0.5"/>
<text x="26.9" y="299.9" font-size="4.7" fill="#262626" text-anchor="end" font-family='"DejaVu Sans", "Liberation Sans", sans-serif' >0.30</text>
<polyline points="37.3,289.6 187.2,289.6 187.4,411.1 188.4,411.3" fill="none" stroke="#3b86bd" stroke-width="0.9"/>
<rect x="42.1" y="348.1" width="6.6" height="63.8" fill="#000"/>
<rect x="55.1" y="348.1" width="6.7" height="63.8" fill="#000"/>
<rect x="70.0" y="348.1" width="7.3" height="63.8" fill="#000"/>
<rect x="84.1" y="348.1" width="6.7" height="63.8" fill="#000"/>
<rect x="98.6" y="348.1" width="8.1" height="63.8" fill="#000"/>
<rect x="34.4" y="354.9" width="84.9" height="8.9" fill="#000"/>
<rect x="34.4" y="371.9" width="84.9" height="9.1" fill="#000"/>
<rect x="34.4" y="391.2" width="84.9" height="9.1" fill="#000"/>
<text x="8.7" y="282.4" font-size="14" fill="#000" text-anchor="start" font-family='"Liberation Serif", serif' >(o)</text>
<text x="27.6" y="279.5" font-size="10.5" fill="#000" text-anchor="start" font-family='"Liberation Serif", serif' >NS</text>
<text x="70.0" y="279.5" font-size="10.5" fill="#000" text-anchor="start" font-family='"Liberation Serif", serif' >Characteristic curve</text>
<text x="51.8" y="341.7" font-size="10.5" fill="#000" text-anchor="start" font-family='"Liberation Serif", serif' >Chessboard</text>
<text x="200.7" y="419.5" font-size="10.5" fill="#000" text-anchor="start" font-family='"Liberation Serif", serif' >LOB</text>
<rect x="5.75" y="268.55" width="219.10" height="166.80" fill="none" stroke="#000" stroke-width="2.1"/>
<rect x="257.4" y="281.8" width="159.9" height="138.4" fill="#fff" stroke="#7a7a7a" stroke-width="0.7"/>
<line x1="264.3" y1="420.2" x2="264.3" y2="421.8" stroke="#555" stroke-width="0.5"/>
<text x="264.3" y="428.0" font-size="4.7" fill="#262626" text-anchor="middle" font-family='"DejaVu Sans", "Liberation Sans", sans-serif' >0</text>
<line x1="292.7" y1="420.2" x2="292.7" y2="421.8" stroke="#555" stroke-width="0.5"/>
<text x="292.7" y="428.0" font-size="4.7" fill="#262626" text-anchor="middle" font-family='"DejaVu Sans", "Liberation Sans", sans-serif' >50</text>
<line x1="321.4" y1="420.2" x2="321.4" y2="421.8" stroke="#555" stroke-width="0.5"/>
<text x="321.4" y="428.0" font-size="4.7" fill="#262626" text-anchor="middle" font-family='"DejaVu Sans", "Liberation Sans", sans-serif' >100</text>
<line x1="349.1" y1="420.2" x2="349.1" y2="421.8" stroke="#555" stroke-width="0.5"/>
<text x="349.1" y="428.0" font-size="4.7" fill="#262626" text-anchor="middle" font-family='"DejaVu Sans", "Liberation Sans", sans-serif' >150</text>
<line x1="377.7" y1="420.2" x2="377.7" y2="421.8" stroke="#555" stroke-width="0.5"/>
<text x="377.7" y="428.0" font-size="4.7" fill="#262626" text-anchor="middle" font-family='"DejaVu Sans", "Liberation Sans", sans-serif' >200</text>
<line x1="406.3" y1="420.2" x2="406.3" y2="421.8" stroke="#555" stroke-width="0.5"/>
<text x="406.3" y="428.0" font-size="4.7" fill="#262626" text-anchor="middle" font-family='"DejaVu Sans", "Liberation Sans", sans-serif' >250</text>
<line x1="255.8" y1="413.8" x2="257.4" y2="413.8" stroke="#555" stroke-width="0.5"/>
<text x="253.3" y="415.5" font-size="4.7" fill="#262626" text-anchor="end" font-family='"DejaVu Sans", "Liberation Sans", sans-serif' >0.0</text>
<line x1="255.8" y1="385.4" x2="257.4" y2="385.4" stroke="#555" stroke-width="0.5"/>
<text x="253.3" y="387.1" font-size="4.7" fill="#262626" text-anchor="end" font-family='"DejaVu Sans", "Liberation Sans", sans-serif' >0.2</text>
<line x1="255.8" y1="356.4" x2="257.4" y2="356.4" stroke="#555" stroke-width="0.5"/>
<text x="253.3" y="358.1" font-size="4.7" fill="#262626" text-anchor="end" font-family='"DejaVu Sans", "Liberation Sans", sans-serif' >0.4</text>
<line x1="255.8" y1="327.4" x2="257.4" y2="327.4" stroke="#555" stroke-width="0.5"/>
<text x="253.3" y="329.1" font-size="4.7" fill="#262626" text-anchor="end" font-family='"DejaVu Sans", "Liberation Sans", sans-serif' >0.6</text>
<line x1="255.8" y1="299.4" x2="257.4" y2="299.4" stroke="#555" stroke-width="0.5"/>
<text x="253.3" y="301.1" font-size="4.7" fill="#262626" text-anchor="end" font-family='"DejaVu Sans", "Liberation Sans", sans-serif' >0.8</text>
<polyline points="264.3,287.3 282.7,287.9 283.6,289.0 284.5,304.0 285.6,304.8 303.0,305.3 303.9,306.4 304.8,321.4 305.9,322.2 323.9,322.7 324.8,323.8 325.7,339.8 326.8,340.6 344.5,341.1 345.4,342.2 346.3,357.7 347.4,358.5 365.2,359.0 366.1,360.1 367.0,375.1 368.1,375.9 385.7,376.4 386.6,377.5 387.5,392.7 388.6,393.5 406.7,394.0 407.6,395.1 408.5,412.8 409.0,413.8" fill="none" stroke="#3b86bd" stroke-width="0.95" stroke-linejoin="round"/>
<rect x="262.80" y="355.1" width="8.3" height="61.9" fill="#000000"/>
<rect x="270.94" y="355.1" width="8.3" height="61.9" fill="#242424"/>
<rect x="279.08" y="355.1" width="8.3" height="61.9" fill="#494949"/>
<rect x="287.22" y="355.1" width="8.3" height="61.9" fill="#6d6d6d"/>
<rect x="295.36" y="355.1" width="8.3" height="61.9" fill="#929292"/>
<rect x="303.50" y="355.1" width="8.3" height="61.9" fill="#b6b6b6"/>
<rect x="311.64" y="355.1" width="8.3" height="61.9" fill="#dbdbdb"/>
<text x="235.8" y="282.0" font-size="14" fill="#000" text-anchor="start" font-family='"Liberation Serif", serif' >(p)</text>
<text x="295.6" y="278.1" font-size="10.5" fill="#000" text-anchor="start" font-family='"Liberation Serif", serif' >Characteristic curve</text>
<text x="327.5" y="290.1" font-size="10.5" fill="#000" text-anchor="start" font-family='"Liberation Serif", serif' >NS</text>
<text x="260.6" y="352.6" font-size="10.45" fill="#000" text-anchor="start" font-family='"Liberation Serif", serif' >Grayscale levels</text>
<text x="423.2" y="421.8" font-size="10.5" fill="#000" text-anchor="start" font-family='"Liberation Serif", serif' >LOB</text>
<rect x="232.95" y="267.85" width="219.80" height="168.60" fill="none" stroke="#000" stroke-width="2.1"/>
<rect x="497.5" y="280.5" width="156.1" height="143.0" fill="#fff" stroke="#7a7a7a" stroke-width="0.7"/>
<line x1="503.9" y1="423.5" x2="503.9" y2="425.1" stroke="#555" stroke-width="0.5"/>
<text x="503.9" y="431.2" font-size="4.7" fill="#262626" text-anchor="middle" font-family='"DejaVu Sans", "Liberation Sans", sans-serif' >0</text>
<line x1="531.9" y1="423.5" x2="531.9" y2="425.1" stroke="#555" stroke-width="0.5"/>
<text x="531.9" y="431.2" font-size="4.7" fill="#262626" text-anchor="middle" font-family='"DejaVu Sans", "Liberation Sans", sans-serif' >50</text>
<line x1="559.9" y1="423.5" x2="559.9" y2="425.1" stroke="#555" stroke-width="0.5"/>
<text x="559.9" y="431.2" font-size="4.7" fill="#262626" text-anchor="middle" font-family='"DejaVu Sans", "Liberation Sans", sans-serif' >100</text>
<line x1="587.8" y1="423.5" x2="587.8" y2="425.1" stroke="#555" stroke-width="0.5"/>
<text x="587.8" y="431.2" font-size="4.7" fill="#262626" text-anchor="middle" font-family='"DejaVu Sans", "Liberation Sans", sans-serif' >150</text>
<line x1="615.6" y1="423.5" x2="615.6" y2="425.1" stroke="#555" stroke-width="0.5"/>
<text x="615.6" y="431.2" font-size="4.7" fill="#262626" text-anchor="middle" font-family='"DejaVu Sans", "Liberation Sans", sans-serif' >200</text>
<line x1="643.9" y1="423.5" x2="643.9" y2="425.1" stroke="#555" stroke-width="0.5"/>
<text x="643.9" y="431.2" font-size="4.7" fill="#262626" text-anchor="middle" font-family='"DejaVu Sans", "Liberation Sans", sans-serif' >250</text>
<line x1="495.9" y1="416.7" x2="497.5" y2="416.7" stroke="#555" stroke-width="0.5"/>
<text x="493.9" y="418.4" font-size="4.7" fill="#262626" text-anchor="end" font-family='"DejaVu Sans", "Liberation Sans", sans-serif' >0.0</text>
<line x1="495.9" y1="390.6" x2="497.5" y2="390.6" stroke="#555" stroke-width="0.5"/>
<text x="493.9" y="392.3" font-size="4.7" fill="#262626" text-anchor="end" font-family='"DejaVu Sans", "Liberation Sans", sans-serif' >0.2</text>
<line x1="495.9" y1="364.5" x2="497.5" y2="364.5" stroke="#555" stroke-width="0.5"/>
<text x="493.9" y="366.2" font-size="4.7" fill="#262626" text-anchor="end" font-family='"DejaVu Sans", "Liberation Sans", sans-serif' >0.4</text>
<line x1="495.9" y1="338.4" x2="497.5" y2="338.4" stroke="#555" stroke-width="0.5"/>
<text x="493.9" y="340.1" font-size="4.7" fill="#262626" text-anchor="end" font-family='"DejaVu Sans", "Liberation Sans", sans-serif' >0.6</text>
<line x1="495.9" y1="312.4" x2="497.5" y2="312.4" stroke="#555" stroke-width="0.5"/>
<text x="493.9" y="314.1" font-size="4.7" fill="#262626" text-anchor="end" font-family='"DejaVu Sans", "Liberation Sans", sans-serif' >0.8</text>
<line x1="495.9" y1="286.6" x2="497.5" y2="286.6" stroke="#555" stroke-width="0.5"/>
<text x="493.9" y="288.3" font-size="4.7" fill="#262626" text-anchor="end" font-family='"DejaVu Sans", "Liberation Sans", sans-serif' >1.0</text>
<polyline points="504.3,286.6 520.0,287.6 538.2,288.7 539.0,290.0 552.0,291.6 565.0,293.0 575.6,295.0 580.0,297.5 584.3,300.8 589.0,303.8 594.0,306.6 600.0,309.5 606.6,312.9 609.5,316.5 611.4,321.0 613.2,327.5 614.9,334.6 617.0,342.0 619.1,349.1 623.0,356.4 629.7,373.8 634.0,387.0 638.4,399.9 642.3,409.6 645.8,416.7" fill="none" stroke="#3b86bd" stroke-width="0.95" stroke-linejoin="round"/>
<rect x="501.8" y="352.8" width="96.7" height="66.5" fill="#fff"/>
<rect x="501.8" y="417.75" width="96.7" height="1.5" fill="#7e7e7e"/>
<rect x="597.6" y="352.8" width="0.8" height="66.4" fill="#8c8c8c"/>
<rect x="501.8" y="352.8" width="95.7" height="63.4" fill="#fbe4e4"/>
<line x1="501.80" y1="352.8" x2="501.80" y2="416.2" stroke="#b8323c" stroke-width="0.6"/><line x1="503.34" y1="352.8" x2="503.34" y2="416.2" stroke="#e59aa0" stroke-width="0.35"/><line x1="504.88" y1="352.8" x2="504.88" y2="416.2" stroke="#e59aa0" stroke-width="0.35"/><line x1="506.42" y1="352.8" x2="506.42" y2="416.2" stroke="#e59aa0" stroke-width="0.35"/><line x1="507.96" y1="352.8" x2="507.96" y2="416.2" stroke="#e59aa0" stroke-width="0.35"/><line x1="509.50" y1="352.8" x2="509.50" y2="416.2" stroke="#b8323c" stroke-width="0.6"/><line x1="511.04" y1="352.8" x2="511.04" y2="416.2" stroke="#e59aa0" stroke-width="0.35"/><line x1="512.58" y1="352.8" x2="512.58" y2="416.2" stroke="#e59aa0" stroke-width="0.35"/><line x1="514.12" y1="352.8" x2="514.12" y2="416.2" stroke="#e59aa0" stroke-width="0.35"/><line x1="515.66" y1="352.8" x2="515.66" y2="416.2" stroke="#e59aa0" stroke-width="0.35"/><line x1="517.20" y1="352.8" x2="517.20" y2="416.2" stroke="#b8323c" stroke-width="0.6"/><line x1="518.74" y1="352.8" x2="518.74" y2="416.2" stroke="#e59aa0" stroke-width="0.35"/><line x1="520.28" y1="352.8" x2="520.28" y2="416.2" stroke="#e59aa0" stroke-width="0.35"/><line x1="521.82" y1="352.8" x2="521.82" y2="416.2" stroke="#e59aa0" stroke-width="0.35"/><line x1="523.36" y1="352.8" x2="523.36" y2="416.2" stroke="#e59aa0" stroke-width="0.35"/><line x1="524.90" y1="352.8" x2="524.90" y2="416.2" stroke="#b8323c" stroke-width="0.6"/><line x1="526.44" y1="352.8" x2="526.44" y2="416.2" stroke="#e59aa0" stroke-width="0.35"/><line x1="527.98" y1="352.8" x2="527.98" y2="416.2" stroke="#e59aa0" stroke-width="0.35"/><line x1="529.52" y1="352.8" x2="529.52" y2="416.2" stroke="#e59aa0" stroke-width="0.35"/><line x1="531.06" y1="352.8" x2="531.06" y2="416.2" stroke="#e59aa0" stroke-width="0.35"/><line x1="532.60" y1="352.8" x2="532.60" y2="416.2" stroke="#b8323c" stroke-width="0.6"/><line x1="534.14" y1="352.8" x2="534.14" y2="416.2" stroke="#e59aa0" stroke-width="0.35"/><line x1="535.68" y1="352.8" x2="535.68" y2="416.2" stroke="#e59aa0" stroke-width="0.35"/><line x1="537.22" y1="352.8" x2="537.22" y2="416.2" stroke="#e59aa0" stroke-width="0.35"/><line x1="538.76" y1="352.8" x2="538.76" y2="416.2" stroke="#e59aa0" stroke-width="0.35"/><line x1="540.30" y1="352.8" x2="540.30" y2="416.2" stroke="#b8323c" stroke-width="0.6"/><line x1="541.84" y1="352.8" x2="541.84" y2="416.2" stroke="#e59aa0" stroke-width="0.35"/><line x1="543.38" y1="352.8" x2="543.38" y2="416.2" stroke="#e59aa0" stroke-width="0.35"/><line x1="544.92" y1="352.8" x2="544.92" y2="416.2" stroke="#e59aa0" stroke-width="0.35"/><line x1="546.46" y1="352.8" x2="546.46" y2="416.2" stroke="#e59aa0" stroke-width="0.35"/><line x1="548.00" y1="352.8" x2="548.00" y2="416.2" stroke="#b8323c" stroke-width="0.6"/><line x1="549.54" y1="352.8" x2="549.54" y2="416.2" stroke="#e59aa0" stroke-width="0.35"/><line x1="551.08" y1="352.8" x2="551.08" y2="416.2" stroke="#e59aa0" stroke-width="0.35"/><line x1="552.62" y1="352.8" x2="552.62" y2="416.2" stroke="#e59aa0" stroke-width="0.35"/><line x1="554.16" y1="352.8" x2="554.16" y2="416.2" stroke="#e59aa0" stroke-width="0.35"/><line x1="555.70" y1="352.8" x2="555.70" y2="416.2" stroke="#b8323c" stroke-width="0.6"/><line x1="557.24" y1="352.8" x2="557.24" y2="416.2" stroke="#e59aa0" stroke-width="0.35"/><line x1="558.78" y1="352.8" x2="558.78" y2="416.2" stroke="#e59aa0" stroke-width="0.35"/><line x1="560.32" y1="352.8" x2="560.32" y2="416.2" stroke="#e59aa0" stroke-width="0.35"/><line x1="561.86" y1="352.8" x2="561.86" y2="416.2" stroke="#e59aa0" stroke-width="0.35"/><line x1="563.40" y1="352.8" x2="563.40" y2="416.2" stroke="#b8323c" stroke-width="0.6"/><line x1="564.94" y1="352.8" x2="564.94" y2="416.2" stroke="#e59aa0" stroke-width="0.35"/><line x1="566.48" y1="352.8" x2="566.48" y2="416.2" stroke="#e59aa0" stroke-width="0.35"/><line x1="568.02" y1="352.8" x2="568.02" y2="416.2" stroke="#e59aa0" stroke-width="0.35"/><line x1="569.56" y1="352.8" x2="569.56" y2="416.2" stroke="#e59aa0" stroke-width="0.35"/><line x1="571.10" y1="352.8" x2="571.10" y2="416.2" stroke="#b8323c" stroke-width="0.6"/><line x1="572.64" y1="352.8" x2="572.64" y2="416.2" stroke="#e59aa0" stroke-width="0.35"/><line x1="574.18" y1="352.8" x2="574.18" y2="416.2" stroke="#e59aa0" stroke-width="0.35"/><line x1="575.72" y1="352.8" x2="575.72" y2="416.2" stroke="#e59aa0" stroke-width="0.35"/><line x1="577.26" y1="352.8" x2="577.26" y2="416.2" stroke="#e59aa0" stroke-width="0.35"/><line x1="578.80" y1="352.8" x2="578.80" y2="416.2" stroke="#b8323c" stroke-width="0.6"/><line x1="580.34" y1="352.8" x2="580.34" y2="416.2" stroke="#e59aa0" stroke-width="0.35"/><line x1="581.88" y1="352.8" x2="581.88" y2="416.2" stroke="#e59aa0" stroke-width="0.35"/><line x1="583.42" y1="352.8" x2="583.42" y2="416.2" stroke="#e59aa0" stroke-width="0.35"/><line x1="584.96" y1="352.8" x2="584.96" y2="416.2" stroke="#e59aa0" stroke-width="0.35"/><line x1="586.50" y1="352.8" x2="586.50" y2="416.2" stroke="#b8323c" stroke-width="0.6"/><line x1="588.04" y1="352.8" x2="588.04" y2="416.2" stroke="#e59aa0" stroke-width="0.35"/><line x1="589.58" y1="352.8" x2="589.58" y2="416.2" stroke="#e59aa0" stroke-width="0.35"/><line x1="591.12" y1="352.8" x2="591.12" y2="416.2" stroke="#e59aa0" stroke-width="0.35"/><line x1="592.66" y1="352.8" x2="592.66" y2="416.2" stroke="#e59aa0" stroke-width="0.35"/><line x1="594.20" y1="352.8" x2="594.20" y2="416.2" stroke="#b8323c" stroke-width="0.6"/><line x1="595.74" y1="352.8" x2="595.74" y2="416.2" stroke="#e59aa0" stroke-width="0.35"/><line x1="597.28" y1="352.8" x2="597.28" y2="416.2" stroke="#e59aa0" stroke-width="0.35"/><line x1="501.8" y1="352.80" x2="597.5" y2="352.80" stroke="#b8323c" stroke-width="0.6"/><line x1="501.8" y1="355.45" x2="597.5" y2="355.45" stroke="#e59aa0" stroke-width="0.35"/><line x1="501.8" y1="358.10" x2="597.5" y2="358.10" stroke="#e59aa0" stroke-width="0.35"/><line x1="501.8" y1="360.75" x2="597.5" y2="360.75" stroke="#e59aa0" stroke-width="0.35"/><line x1="501.8" y1="363.40" x2="597.5" y2="363.40" stroke="#e59aa0" stroke-width="0.35"/><line x1="501.8" y1="366.05" x2="597.5" y2="366.05" stroke="#b8323c" stroke-width="0.6"/><line x1="501.8" y1="368.70" x2="597.5" y2="368.70" stroke="#e59aa0" stroke-width="0.35"/><line x1="501.8" y1="371.35" x2="597.5" y2="371.35" stroke="#e59aa0" stroke-width="0.35"/><line x1="501.8" y1="374.00" x2="597.5" y2="374.00" stroke="#e59aa0" stroke-width="0.35"/><line x1="501.8" y1="376.65" x2="597.5" y2="376.65" stroke="#e59aa0" stroke-width="0.35"/><line x1="501.8" y1="379.30" x2="597.5" y2="379.30" stroke="#b8323c" stroke-width="0.6"/><line x1="501.8" y1="381.95" x2="597.5" y2="381.95" stroke="#e59aa0" stroke-width="0.35"/><line x1="501.8" y1="384.60" x2="597.5" y2="384.60" stroke="#e59aa0" stroke-width="0.35"/><line x1="501.8" y1="387.25" x2="597.5" y2="387.25" stroke="#e59aa0" stroke-width="0.35"/><line x1="501.8" y1="389.90" x2="597.5" y2="389.90" stroke="#e59aa0" stroke-width="0.35"/><line x1="501.8" y1="392.55" x2="597.5" y2="392.55" stroke="#b8323c" stroke-width="0.6"/><line x1="501.8" y1="395.20" x2="597.5" y2="395.20" stroke="#e59aa0" stroke-width="0.35"/><line x1="501.8" y1="397.85" x2="597.5" y2="397.85" stroke="#e59aa0" stroke-width="0.35"/><line x1="501.8" y1="400.50" x2="597.5" y2="400.50" stroke="#e59aa0" stroke-width="0.35"/><line x1="501.8" y1="403.15" x2="597.5" y2="403.15" stroke="#e59aa0" stroke-width="0.35"/><line x1="501.8" y1="405.80" x2="597.5" y2="405.80" stroke="#b8323c" stroke-width="0.6"/><line x1="501.8" y1="408.45" x2="597.5" y2="408.45" stroke="#e59aa0" stroke-width="0.35"/><line x1="501.8" y1="411.10" x2="597.5" y2="411.10" stroke="#e59aa0" stroke-width="0.35"/><line x1="501.8" y1="413.75" x2="597.5" y2="413.75" stroke="#e59aa0" stroke-width="0.35"/>
<polyline points="502.3,396.4 504.0,393.3 505.8,390.3 507.5,390.0 510.1,393.8 513.5,395.5 516.1,396.9 518.7,394.6 521.3,393.8 523.9,396.4 525.3,398.4 526.2,392.6 527.0,394.6 528.2,401.9 530.0,396.4 532.6,393.8 535.1,389.5 537.4,387.4 539.5,391.2 542.1,394.3 545.0,394.0 548.1,394.6 550.7,392.1 552.4,394.6 555.0,396.7 556.2,398.1 556.7,392.6 557.6,398.1 558.8,401.0 561.1,395.5 564.5,392.9 567.1,389.5 569.7,392.1 572.3,395.5 574.9,395.0 577.5,394.3 580.1,392.9 582.7,394.6 585.2,398.4 586.6,392.6 587.5,398.1 588.4,401.0 590.4,395.5 593.9,394.6 595.6,389.5 597.3,386.9" fill="none" stroke="#100a0c" stroke-width="1.0" stroke-linejoin="round"/>
<line x1="526.16" y1="369.60" x2="526.42" y2="393.27" stroke="#4a4446" stroke-width="0.75"/>
<line x1="556.74" y1="369.60" x2="557.00" y2="393.27" stroke="#4a4446" stroke-width="0.75"/>
<line x1="586.63" y1="370.46" x2="586.89" y2="393.27" stroke="#4a4446" stroke-width="0.75"/>
<text x="503.9" y="365.2" font-size="8.6" font-weight="bold" fill="#1a1a1a" font-family='"Liberation Sans", sans-serif'>I</text>
<text x="464.7" y="282.3" font-size="14" fill="#000" text-anchor="start" font-family='"Liberation Serif", serif' >(q)</text>
<text x="491.7" y="278.9" font-size="10.5" fill="#000" text-anchor="start" font-family='"Liberation Serif", serif' >NS</text>
<text x="533.3" y="277.6" font-size="10.5" fill="#000" text-anchor="start" font-family='"Liberation Serif", serif' >Characteristic curve</text>
<text x="540.0" y="348.1" font-size="10.5" fill="#000" text-anchor="start" font-family='"Liberation Serif", serif' >ECG</text>
<text x="657.0" y="426.5" font-size="10.5" fill="#000" text-anchor="start" font-family='"Liberation Serif", serif' >LOB</text>
<rect x="460.25" y="267.85" width="219.30" height="169.70" fill="none" stroke="#000" stroke-width="2.1"/>
</svg>
</body>
</html>
